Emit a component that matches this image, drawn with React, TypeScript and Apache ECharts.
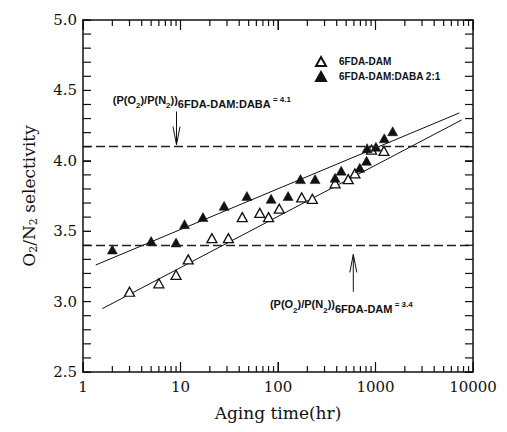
import React, { useEffect, useRef } from "react";
import * as echarts from "echarts";

// ---- data ----
const seriesNames = ["6FDA-DAM", "6FDA-DAM:DABA 2:1"];

const agingDAM = [3, 6, 9, 12, 21, 31, 43, 65, 80, 103, 175, 225, 385, 525, 615, 910, 1220];
const selectivityDAM = [3.07, 3.13, 3.19, 3.3, 3.45, 3.45, 3.6, 3.63, 3.6, 3.66, 3.74, 3.73, 3.84, 3.87, 3.91, 4.08, 4.07];

const agingDABA = [2, 5, 9, 11, 17, 28, 48, 85, 127, 170, 240, 385, 445, 690, 810, 820, 1010, 1230, 1500];
const selectivityDABA = [3.37, 3.43, 3.42, 3.55, 3.6, 3.68, 3.75, 3.73, 3.75, 3.87, 3.87, 3.88, 3.93, 3.95, 4.0, 4.09, 4.1, 4.16, 4.21];

const fitDAMHours = [1.58, 7650];
const fitDAMValues = [2.95, 4.29];
const fitDABAHours = [1.35, 7250];
const fitDABAValues = [3.26, 4.34];

const referenceDABA = 4.1;
const referenceDAM = 3.4;

// axis ticks
const xMajorTicks = [1, 10, 100, 1000, 10000];
const xMinorTicks = [
  2, 3, 4, 5, 6, 7, 8, 9,
  20, 30, 40, 50, 60, 70, 80, 90,
  200, 300, 400, 500, 600, 700, 800, 900,
  2000, 3000, 4000, 5000, 6000, 7000, 8000, 9000,
];
const yTickValues = [
  2.5, 2.6, 2.7, 2.8, 2.9, 3.0, 3.1, 3.2, 3.3, 3.4, 3.5, 3.6, 3.7,
  3.8, 3.9, 4.0, 4.1, 4.2, 4.3, 4.4, 4.5, 4.6, 4.7, 4.8, 4.9, 5.0,
];
const Y_MIN = 2.5;
const Y_MAX = 5.0;
const X_MIN = 1;
const X_MAX = 10000;

// annotations (data space)
const arrowHours = [9.1, 592];
const arrowTail = [4.35, 3.07];
const arrowTip = [4.115, 3.335];
const annotationHours = [2.02, 82.6];
const annotationSelectivity = [4.433, 2.98];
const annotationSubjects = ["6FDA-DAM:DABA", "6FDA-DAM"];
const annotationValues = [referenceDABA, referenceDAM];

const SERIF = "DejaVu Serif";
const SANS = "Liberation Sans";
const INK = "#111";

export default function App() {
  const ref = useRef<HTMLDivElement>(null);

  useEffect(() => {
    const chart = echarts.init(ref.current!, null, { renderer: "svg" });

    const toPairs = (xs: number[], ys: number[]) => xs.map((x, i) => [x, ys[i]]);

    const rich = {
      m: { fontFamily: SANS, fontWeight: "bold", fontSize: 11, lineHeight: 20, verticalAlign: "middle", fill: INK },
      s: { fontFamily: SANS, fontWeight: "bold", fontSize: 8, lineHeight: 13, verticalAlign: "bottom", fill: INK },
      b: { fontFamily: SANS, fontWeight: "bold", fontSize: 11, lineHeight: 12, verticalAlign: "bottom", fill: INK },
      e: { fontFamily: SANS, fontWeight: "bold", fontSize: 8, lineHeight: 20, verticalAlign: "middle", fill: INK },
    };

    // tick marks drawn as thin filled bars
    const vBar = (x: number, y: number, len: number) => ({
      type: "rect",
      shape: { x: x - 0.6, y: len > 0 ? y : y + len, width: 1.2, height: Math.abs(len) },
      style: { fill: INK },
    });
    const hBar = (x: number, y: number, len: number) => ({
      type: "rect",
      shape: { x: len > 0 ? x : x + len, y: y - 0.6, width: Math.abs(len), height: 1.2 },
      style: { fill: INK },
    });

    const frameAxis = { show: true, lineStyle: { color: INK, width: 1.5 } };

    const option: any = {
      animation: false,
      grid: { left: 83, right: 34, top: 20, bottom: 60 },
      legend: {
        left: 310,
        top: 51,
        orient: "vertical",
        itemGap: 4,
        itemWidth: 10,
        itemHeight: 9,
        data: seriesNames.map((n) => ({ name: n, icon: "triangle" })),
        textStyle: { fontFamily: SANS, fontWeight: "bold", fontSize: 10, color: INK, padding: [0, 0, 0, 8] },
      },
      xAxis: [
        {
          type: "log",
          logBase: 10,
          min: X_MIN,
          max: X_MAX,
          position: "bottom",
          name: "Aging time(hr)",
          nameLocation: "middle",
          nameGap: 32,
          nameTextStyle: { fontFamily: SERIF, fontSize: 17, color: INK },
          axisLine: frameAxis,
          axisTick: { show: true, inside: true, length: 10 },
          splitLine: { show: false },
          axisLabel: {
            fontFamily: SERIF,
            fontSize: 15,
            color: INK,
            margin: 7,
            formatter: (v: number) => String(Math.round(v)),
          },
        },
        {
          type: "log",
          logBase: 10,
          min: X_MIN,
          max: X_MAX,
          position: "top",
          axisLine: frameAxis,
          axisTick: { show: true, inside: true, length: 10 },
          axisLabel: { show: false },
          splitLine: { show: false },
        },
      ],
      yAxis: [
        {
          type: "value",
          min: Y_MIN,
          max: Y_MAX,
          interval: 0.5,
          position: "left",
          name: "O{s|2}/N{s|2} selectivity",
          nameLocation: "middle",
          nameGap: 44,
          nameTextStyle: {
            fontFamily: SERIF,
            fontSize: 17,
            color: INK,
            lineHeight: 20,
            rich: {
              s: { fontFamily: SERIF, fontSize: 11, color: INK, lineHeight: 13, verticalAlign: "bottom" },
            },
          },
          axisLine: frameAxis,
          axisTick: { show: true, inside: true, length: 8 },
          splitLine: { show: false },
          axisLabel: {
            fontFamily: SERIF,
            fontSize: 15,
            color: INK,
            margin: 6,
            formatter: (v: number) => v.toFixed(1),
          },
        },
        {
          type: "value",
          min: Y_MIN,
          max: Y_MAX,
          interval: 0.5,
          position: "right",
          axisLine: frameAxis,
          axisTick: { show: true, inside: true, length: 8 },
          splitLine: { show: false },
          axisLabel: { show: false },
        },
      ],
      series: [
        {
          name: "fitDABA",
          type: "line",
          xAxisIndex: 0,
          yAxisIndex: 0,
          data: toPairs(fitDABAHours, fitDABAValues),
          showSymbol: false,
          symbol: "none",
          silent: true,
          lineStyle: { color: INK, width: 1 },
          z: 2,
          markLine: {
            silent: true,
            symbol: "none",
            label: { show: false },
            lineStyle: { color: "#222", width: 1.3, type: [9, 4] },
            data: [{ yAxis: referenceDABA }, { yAxis: referenceDAM }],
          },
        },
        {
          name: "fitDAM",
          type: "line",
          xAxisIndex: 0,
          yAxisIndex: 0,
          data: toPairs(fitDAMHours, fitDAMValues),
          showSymbol: false,
          symbol: "none",
          silent: true,
          lineStyle: { color: INK, width: 1 },
          z: 2,
        },
        {
          name: seriesNames[0],
          type: "scatter",
          xAxisIndex: 0,
          yAxisIndex: 0,
          symbol: "triangle",
          symbolSize: [10, 9],
          data: toPairs(agingDAM, selectivityDAM),
          itemStyle: { color: "#fff", borderColor: INK, borderWidth: 1.3, opacity: 1 },
          z: 3,
        },
        {
          name: seriesNames[1],
          type: "scatter",
          xAxisIndex: 0,
          yAxisIndex: 0,
          symbol: "triangle",
          symbolSize: [10, 9],
          data: toPairs(agingDABA, selectivityDABA),
          itemStyle: { color: INK, borderColor: INK, borderWidth: 0.5, opacity: 1 },
          z: 4,
        },
        {
          // x-axis tick marks (bottom and top, pointing inward)
          name: "xTicks",
          type: "custom",
          xAxisIndex: 0,
          yAxisIndex: 0,
          silent: true,
          clip: false,
          z: 6,
          data: [
            ...xMajorTicks.map((v) => [v, Y_MIN, 10]),
            ...xMinorTicks.map((v) => [v, Y_MIN, 6]),
          ],
          encode: { x: 0, y: 1 },
          renderItem: (_params: any, api: any) => {
            const v = api.value(0);
            const len = api.value(2);
            const b = api.coord([v, Y_MIN]);
            const t = api.coord([v, Y_MAX]);
            return {
              type: "group",
              children: [vBar(b[0], b[1], -len), vBar(t[0], t[1], len)],
            };
          },
        },
        {
          // y-axis tick marks (left and right, pointing inward)
          name: "yTicks",
          type: "custom",
          xAxisIndex: 0,
          yAxisIndex: 0,
          silent: true,
          clip: false,
          z: 6,
          data: yTickValues.map((v) => [X_MIN, v]),
          encode: { x: 0, y: 1 },
          renderItem: (_params: any, api: any) => {
            const v = api.value(1);
            const l = api.coord([X_MIN, v]);
            const r = api.coord([X_MAX, v]);
            return {
              type: "group",
              children: [hBar(l[0], l[1], 8), hBar(r[0], r[1], -8)],
            };
          },
        },
        {
          name: "arrows",
          type: "custom",
          xAxisIndex: 0,
          yAxisIndex: 0,
          silent: true,
          z: 5,
          data: arrowHours.map((h, i) => [h, arrowTail[i], arrowTip[i]]),
          encode: { x: 0, y: [1, 2] },
          renderItem: (_params: any, api: any) => {
            const h = api.value(0);
            const tail = api.coord([h, api.value(1)]);
            const tip = api.coord([h, api.value(2)]);
            const dir = Math.sign(tip[1] - tail[1]);
            const headLen = 18;
            const half = 3.5;
            return {
              type: "group",
              children: [
                {
                  type: "line",
                  shape: { x1: tail[0], y1: tail[1], x2: tip[0], y2: tip[1] },
                  style: { stroke: INK, lineWidth: 1 },
                },
                {
                  type: "polyline",
                  shape: {
                    points: [
                      [tip[0] - half, tip[1] - dir * headLen],
                      [tip[0], tip[1]],
                      [tip[0] + half, tip[1] - dir * headLen],
                    ],
                  },
                  style: { stroke: INK, fill: "none", lineWidth: 1 },
                },
              ],
            };
          },
        },
        {
          name: "annotations",
          type: "custom",
          xAxisIndex: 0,
          yAxisIndex: 0,
          silent: true,
          z: 5,
          data: annotationHours.map((h, i) => [h, annotationSelectivity[i]]),
          encode: { x: 0, y: 1 },
          renderItem: (params: any, api: any) => {
            const p = api.coord([api.value(0), api.value(1)]);
            const i = params.dataIndex;
            return {
              type: "text",
              x: p[0],
              y: p[1],
              style: {
                text:
                  "{m|(P(O}{s|2}{m|)/P(N}{s|2}{m|))}{b|" +
                  annotationSubjects[i] +
                  "}{e| = " +
                  annotationValues[i].toFixed(1) +
                  "}",
                rich,
                align: "left",
                verticalAlign: "middle",
                fill: INK,
              },
            };
          },
        },
      ],
    };

    chart.setOption(option);

    return () => chart.dispose();
  }, []);

  return <div ref={ref} style={{ width: 507, height: 432, margin: -8 }} />;
}
